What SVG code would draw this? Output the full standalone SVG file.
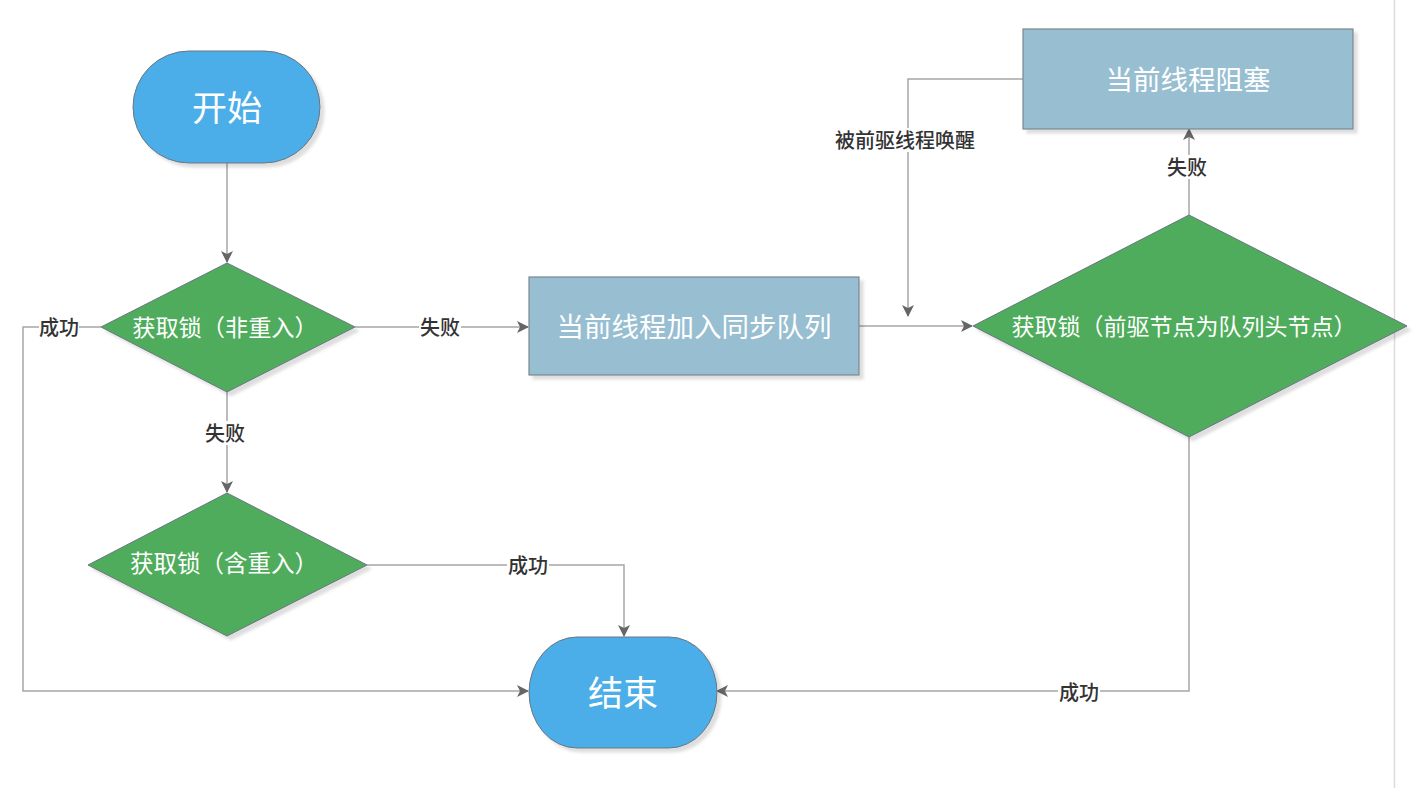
<svg xmlns="http://www.w3.org/2000/svg" width="1422" height="790" viewBox="0 0 1422 790">
<defs>
  <marker id="arr" viewBox="0 0 12 12" refX="11" refY="6" markerWidth="12" markerHeight="12" markerUnits="userSpaceOnUse" orient="auto">
    <path d="M0,0 L12,6 L0,12 L3,6 z" fill="#666"/>
  </marker>
  <filter id="sh" x="-10%" y="-10%" width="130%" height="130%">
    <feDropShadow dx="4" dy="4" stdDeviation="1.5" flood-color="#000" flood-opacity="0.13"/>
  </filter>
</defs>
<style>
  .term { fill: #4CAEE8; stroke: #6a7580; stroke-width: 1; filter: url(#sh); }
  .dec { fill: #50AC5B; stroke: #6a7580; stroke-width: 1; filter: url(#sh); }
  .proc { fill: #97BED1; stroke: #7b8890; stroke-width: 1.2; filter: url(#sh); }
  .nt { fill: #fff; font-family: "Noto Sans CJK SC", "Noto Sans", sans-serif; text-anchor: middle; dominant-baseline: central; }
  .c { fill: none; stroke: #a6a6a6; stroke-width: 1.5; }
  .lb { fill: #333; font-family: "Noto Sans CJK SC", "Noto Sans", sans-serif; font-size: 20px; font-weight: 500; text-anchor: middle; dominant-baseline: central; }
  .lbg { fill: #fff; }
</style>
<rect width="1422" height="790" fill="#fff"/>
<line x1="1394.5" y1="0" x2="1394.5" y2="788" stroke="#dcdcdc" stroke-width="1.5"/>

<g id="connectors">
  <path class="c" d="M227,163 V262" marker-end="url(#arr)"/>
  <path class="c" d="M355,327 H528" marker-end="url(#arr)"/>
  <path class="c" d="M101,327 H23 V691 H528" marker-end="url(#arr)"/>
  <path class="c" d="M227,392 V492" marker-end="url(#arr)"/>
  <path class="c" d="M859,326 H972" marker-end="url(#arr)"/>
  <path class="c" d="M1189,215 V129" marker-end="url(#arr)"/>
  <path class="c" d="M1023,79 H908 V316" marker-end="url(#arr)"/>
  <path class="c" d="M1189,437 V691 H717" marker-end="url(#arr)"/>
  <path class="c" d="M367,565 H624 V636" marker-end="url(#arr)"/>

  <rect class="lbg" x="39" y="315" width="40" height="24"/>
  <text class="lb" x="59" y="326">成功</text>
  <rect class="lbg" x="419" y="315" width="42" height="24"/>
  <text class="lb" x="440" y="326">失败</text>
  <rect class="lbg" x="204" y="421" width="42" height="24"/>
  <text class="lb" x="225" y="432">失败</text>
  <rect class="lbg" x="1166" y="155" width="42" height="24"/>
  <text class="lb" x="1187" y="166">失败</text>
  <rect class="lbg" x="833" y="128" width="144" height="24"/>
  <text class="lb" x="905" y="139">被前驱线程唤醒</text>
  <rect class="lbg" x="1058" y="680" width="42" height="24"/>
  <text class="lb" x="1079" y="691">成功</text>
  <rect class="lbg" x="507" y="553" width="42" height="24"/>
  <text class="lb" x="528" y="564">成功</text>
</g>

<g id="start">
  <rect class="term" x="133" y="51" width="187" height="112" rx="56" ry="56"/>
  <text class="nt" x="227" y="105" font-size="35">开始</text>
</g>

<g id="d1">
  <polygon class="dec" points="227,263 355,327 227,392 101,327"/>
  <text class="nt" x="225" y="326" font-size="23.2">获取锁（非重入）</text>
</g>

<g id="d3">
  <polygon class="dec" points="227,493 367,565 227,636 88,565"/>
  <text class="nt" x="224" y="562" font-size="23.5">获取锁（含重入）</text>
</g>

<g id="enqueue">
  <rect class="proc" x="529" y="277" width="330" height="98"/>
  <text class="nt" x="694" y="325" font-size="27.5">当前线程加入同步队列</text>
</g>

<g id="d2">
  <polygon class="dec" points="1189,215 1407,326 1189,437 973,326"/>
  <text class="nt" x="1184" y="325" font-size="23">获取锁（前驱节点为队列头节点）</text>
</g>

<g id="block">
  <rect class="proc" x="1023" y="29" width="330" height="100"/>
  <text class="nt" x="1188" y="78" font-size="27.5">当前线程阻塞</text>
</g>

<g id="end">
  <rect class="term" x="529" y="637" width="188" height="111" rx="48" ry="56"/>
  <text class="nt" x="623" y="690" font-size="35">结束</text>
</g>
</svg>
